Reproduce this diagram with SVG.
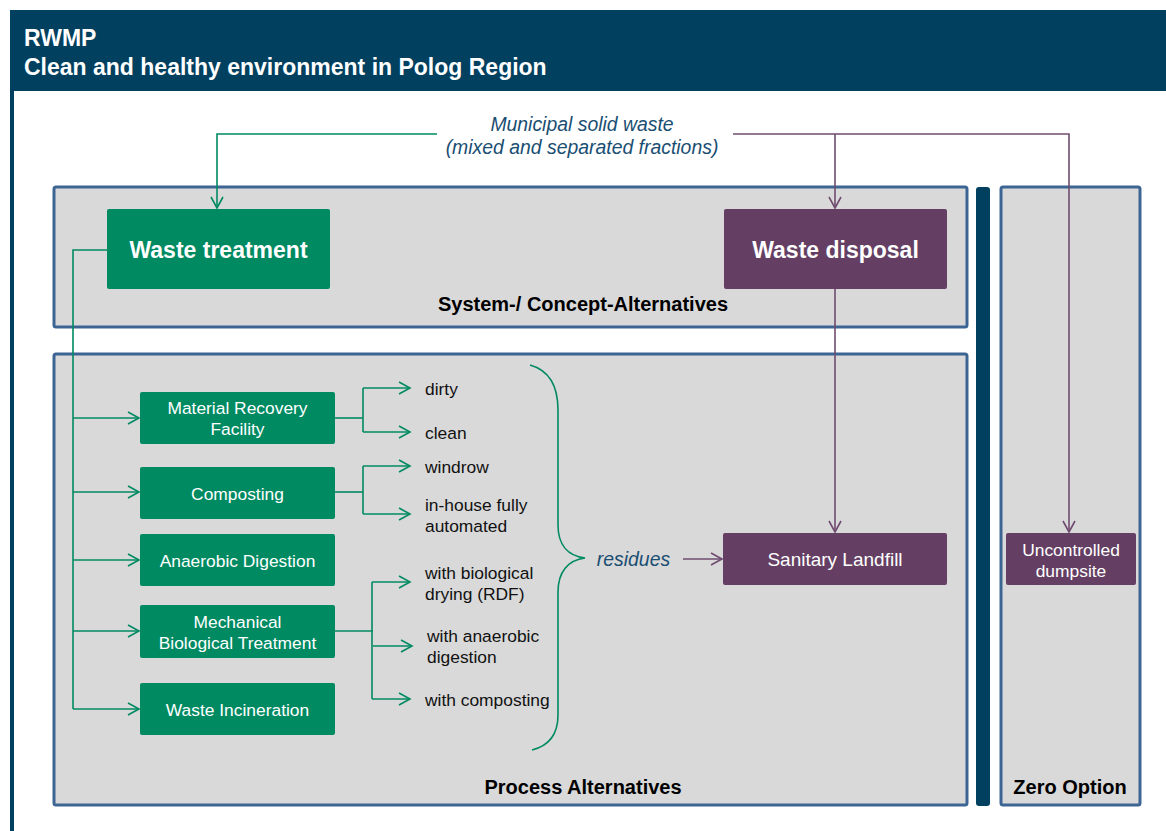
<svg xmlns="http://www.w3.org/2000/svg" width="1166" height="831" viewBox="0 0 1166 831">
<defs>
<style>
text{font-family:"Liberation Sans",Arial,sans-serif}
.panel{fill:#D9D9D9;stroke:#3D6593;stroke-width:3}
.g{fill:#008A62}
.p{fill:#643F63}
.wt{fill:#fff;font-size:17.4px;text-anchor:middle}
.big{fill:#fff;font-size:23px;font-weight:bold;text-anchor:middle}
.lbl{fill:#111;font-size:17.4px}
.cap{fill:#000;font-size:20px;font-weight:bold;text-anchor:middle}
.it{fill:#1A4E72;font-size:19.4px;font-style:italic;text-anchor:middle}
.gl{fill:none;stroke:#008A62;stroke-width:1.6}
.pl{fill:none;stroke:#704C70;stroke-width:1.6}
</style>
<marker id="ag" markerWidth="14" markerHeight="14" refX="12" refY="7" orient="auto" markerUnits="userSpaceOnUse"><path d="M1,1 L12,7 L1,13" fill="none" stroke="#008A62" stroke-width="1.6"/></marker>
<marker id="ap" markerWidth="14" markerHeight="14" refX="12" refY="7" orient="auto" markerUnits="userSpaceOnUse"><path d="M1,1 L12,7 L1,13" fill="none" stroke="#704C70" stroke-width="1.6"/></marker>
</defs>
<rect width="1166" height="831" fill="#fff"/>
<g id="header">
<rect x="10" y="10" width="1156" height="81" fill="#02405F"/>
<rect x="10" y="10" width="4" height="821" fill="#02405F"/>
<text x="24" y="46" fill="#fff" font-size="23" font-weight="bold">RWMP</text>
<text x="24" y="75" fill="#fff" font-size="23" font-weight="bold">Clean and healthy environment in Polog Region</text>
</g>
<g id="panels">
<rect class="panel" x="54" y="187" width="913" height="140" rx="2"/>
<rect class="panel" x="54" y="354" width="913" height="451" rx="2"/>
<rect x="976" y="187" width="14" height="619" rx="3" fill="#02405F"/>
<rect class="panel" x="1001" y="187" width="139" height="618" rx="2"/>
<text class="cap" x="583" y="311">System-/ Concept-Alternatives</text>
<text class="cap" x="583" y="794">Process Alternatives</text>
<text class="cap" x="1070" y="794">Zero Option</text>
</g>
<g id="msw-label">
<text class="it" x="582" y="131">Municipal solid waste</text>
<text class="it" x="582" y="154">(mixed and separated fractions)</text>
</g>
<g id="connectors">
<path class="gl" d="M437,134 H217 V208" marker-end="url(#ag)"/>
<path class="pl" d="M733,134 H1069 V532" marker-end="url(#ap)"/>
<path class="pl" d="M835,134 V208" marker-end="url(#ap)"/>
<path class="pl" d="M835,289 V532" marker-end="url(#ap)"/>
<path class="gl" d="M107,250 H73 V709"/>
<path class="gl" d="M73,418 H139" marker-end="url(#ag)"/>
<path class="gl" d="M73,492 H139" marker-end="url(#ag)"/>
<path class="gl" d="M73,560 H139" marker-end="url(#ag)"/>
<path class="gl" d="M73,631 H139" marker-end="url(#ag)"/>
<path class="gl" d="M73,709 H139" marker-end="url(#ag)"/>
<path class="gl" d="M335,418 H363"/>
<path class="gl" d="M363,388 V432"/>
<path class="gl" d="M363,388 H410" marker-end="url(#ag)"/>
<path class="gl" d="M363,432 H410" marker-end="url(#ag)"/>
<path class="gl" d="M335,492 H363"/>
<path class="gl" d="M363,466 V514"/>
<path class="gl" d="M363,466 H410" marker-end="url(#ag)"/>
<path class="gl" d="M363,514 H410" marker-end="url(#ag)"/>
<path class="gl" d="M335,631 H373"/>
<path class="gl" d="M372,582 V699"/>
<path class="gl" d="M372,582 H410" marker-end="url(#ag)"/>
<path class="gl" d="M373,646 H412" marker-end="url(#ag)"/>
<path class="gl" d="M372,699 H410" marker-end="url(#ag)"/>
<path class="gl" d="M530,365 C548,370 558,385 558,410 V525 C558,545 568,556 585,558 C568,560 558,572 558,592 V715 C558,735 548,746 532,750"/>
<path class="pl" d="M683,559 H722" marker-end="url(#ap)"/>
</g>
<g id="waste-treatment"><rect class="g" x="107" y="209" width="223" height="80" rx="2"/><text class="big" x="218.5" y="258">Waste treatment</text></g>
<g id="waste-disposal"><rect class="p" x="724" y="209" width="223" height="80" rx="2"/><text class="big" x="835.5" y="258">Waste disposal</text></g>
<g id="mrf"><rect class="g" x="140" y="392" width="195" height="52" rx="2"/><text class="wt" x="237.5" y="414">Material Recovery</text><text class="wt" x="237.5" y="435">Facility</text></g>
<g id="composting"><rect class="g" x="140" y="467" width="195" height="52" rx="2"/><text class="wt" x="237.5" y="500">Composting</text></g>
<g id="ad"><rect class="g" x="140" y="534" width="195" height="52" rx="2"/><text class="wt" x="237.5" y="567">Anaerobic Digestion</text></g>
<g id="mbt"><rect class="g" x="140" y="605" width="195" height="53" rx="2"/><text class="wt" x="237.5" y="628">Mechanical</text><text class="wt" x="237.5" y="649">Biological Treatment</text></g>
<g id="wi"><rect class="g" x="140" y="683" width="195" height="52" rx="2"/><text class="wt" x="237.5" y="716">Waste Incineration</text></g>
<g id="options">
<text class="lbl" x="425" y="395">dirty</text>
<text class="lbl" x="425" y="439">clean</text>
<text class="lbl" x="425" y="473">windrow</text>
<text class="lbl" x="425" y="511">in-house fully</text>
<text class="lbl" x="425" y="532">automated</text>
<text class="lbl" x="425" y="579">with biological</text>
<text class="lbl" x="425" y="600">drying (RDF)</text>
<text class="lbl" x="427" y="642">with anaerobic</text>
<text class="lbl" x="427" y="663">digestion</text>
<text class="lbl" x="425" y="706">with composting</text>
</g>
<g id="residues"><text class="it" x="633.5" y="566">residues</text></g>
<g id="sanitary-landfill"><rect class="p" x="723" y="533" width="224" height="52" rx="2"/><text class="wt" x="835" y="566" style="font-size:19px">Sanitary Landfill</text></g>
<g id="dumpsite"><rect class="p" x="1006" y="533" width="130" height="52" rx="2"/><text class="wt" x="1071" y="556">Uncontrolled</text><text class="wt" x="1071" y="577">dumpsite</text></g>
</svg>
